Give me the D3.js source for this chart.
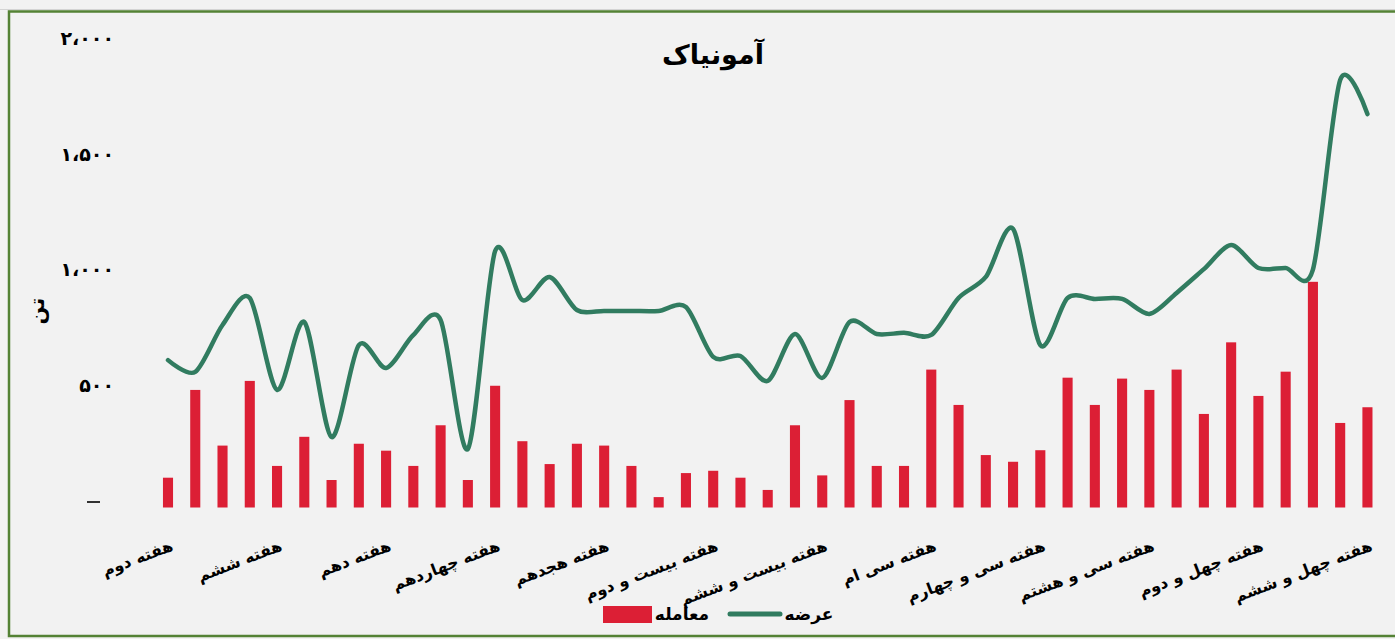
<!DOCTYPE html>
<html lang="fa">
  <head>
    <meta charset="utf-8" />
    <title>آمونیاک</title>
    <script src="https://d3js.org/d3.v7.min.js"></script>
    <style>
      body { margin: 0; background: #f2f2f2; }
      text { font-family: "DejaVu Sans", sans-serif; font-weight: bold; fill: #000; }
      .title { font-size: 27px; }
      .tick-label { font-size: 19px; letter-spacing: 2.5px; }
      .x-label { font-size: 16px; }
      .legend text { font-size: 17px; }
    </style>
  </head>
  <body>
    <svg width="1395" height="639"></svg>
    <script>
      const ordinals = [
        "دوم", "سوم", "چهارم", "پنجم", "ششم", "هفتم", "هشتم", "نهم", "دهم",
        "یازدهم", "دوازدهم", "سیزدهم", "چهاردهم", "پانزدهم", "شانزدهم", "هفدهم",
        "هجدهم", "نوزدهم", "بیستم", "بیست و یکم", "بیست و دوم", "بیست و سوم",
        "بیست و چهارم", "بیست و پنجم", "بیست و ششم", "بیست و هفتم", "بیست و هشتم",
        "بیست و نهم", "سی ام", "سی و یکم", "سی و دوم", "سی و سوم", "سی و چهارم",
        "سی و پنجم", "سی و ششم", "سی و هفتم", "سی و هشتم", "سی و نهم", "چهلم",
        "چهل و یکم", "چهل و دوم", "چهل و سوم", "چهل و چهارم", "چهل و پنجم", "چهل و ششم",
      ];
      const weeks = ordinals.map((o) => "هفته " + o);

      // معامله (bars)
      const deals = [
        129, 509, 268, 548, 180, 306, 119, 276, 246, 180, 356, 119, 527, 287, 188,
        276, 268, 180, 45, 149, 159, 129, 76, 356, 139, 465, 180, 180, 597, 444,
        227, 198, 248, 562, 444, 558, 509, 597, 405, 715, 483, 588, 977, 366, 434,
      ];
      // عرضه (line)
      const supply = [
        638, 587, 790, 907, 509, 803, 305, 703, 604, 747, 812, 253, 1110, 898, 998,
        855, 851, 851, 851, 868, 652, 656, 548, 751, 561, 803, 751, 756, 747, 907,
        998, 1206, 703, 907, 903, 903, 838, 929, 1032, 1136, 1037, 1037, 1030, 1851, 1703,
      ];
      const yTicks = [0, 500, 1000, 1500, 2000];

      const barColour = "#dc1f35";
      const lineColour = "#317c60";

      const faDigits = (n) =>
        d3.format(",")(n).replace(/,/g, "،").replace(/\d/g, (c) => "۰۱۲۳۴۵۶۷۸۹"[c]);

      const svg = d3.select("svg");

      svg.append("rect").attr("width", 1395).attr("height", 639).attr("fill", "#f2f2f2");
      svg.append("line")
        .attr("x1", 0).attr("x2", 1395).attr("y1", 9.5).attr("y2", 9.5)
        .attr("stroke", "#d4d4d4");
      svg.append("rect")
        .attr("x", 9).attr("y", 11.5).attr("width", 1400).attr("height", 624.5)
        .attr("fill", "none").attr("stroke", "#548235").attr("stroke-width", 2.5);

      const x = d3.scaleBand()
        .domain(weeks)
        .range([154.37, 1381.07])
        .paddingInner(0.63)
        .paddingOuter(0.315);
      const cx = (d) => x(d) + x.bandwidth() / 2;

      const y = d3.scaleLinear().domain([0, 2000]).range([507.5, 45.5]);

      // y axis labels
      const yAxis = svg.append("g")
        .attr("transform", "translate(114,0)")
        .call(d3.axisLeft(y).tickValues(yTicks).tickSize(0).tickFormat((d) => (d === 0 ? "" : faDigits(d))));
      yAxis.select(".domain").remove();
      yAxis.selectAll("text")
        .attr("class", "tick-label")
        .attr("x", 0)
        .attr("dy", "-0.05em")
        .attr("font-family", null)
        .attr("font-size", null);
      svg.append("line")
        .attr("x1", 87).attr("x2", 100)
        .attr("y1", y(0) - 5.5).attr("y2", y(0) - 5.5)
        .attr("stroke", "#000").attr("stroke-width", 1.6);

      svg.append("text")
        .attr("transform", "translate(38,311) rotate(-90)")
        .attr("text-anchor", "middle")
        .attr("dominant-baseline", "middle")
        .attr("font-size", "21px")
        .text("تن");

      // bars
      svg.append("g")
        .selectAll("rect")
        .data(weeks)
        .join("rect")
        .attr("x", (d) => x(d))
        .attr("width", x.bandwidth())
        .attr("y", (d, i) => y(deals[i]))
        .attr("height", (d, i) => y(0) - y(deals[i]))
        .attr("fill", barColour);

      // supply line
      const line = d3.line()
        .x((d, i) => cx(weeks[i]))
        .y((d) => y(d))
        .curve(d3.curveCardinal.tension(0.15));
      svg.append("path")
        .datum(supply)
        .attr("d", line)
        .attr("fill", "none")
        .attr("stroke", lineColour)
        .attr("stroke-width", 4.5)
        .attr("stroke-linecap", "round")
        .attr("stroke-linejoin", "round");

      // x labels, every fourth week
      svg.append("g")
        .selectAll("text")
        .data(weeks.filter((d, i) => i % 4 === 0))
        .join("text")
        .attr("class", "x-label")
        .attr("text-anchor", "end")
        .attr("transform", (d) => `translate(${cx(d) + 6},550) rotate(-21)`)
        .text((d) => d);

      // title
      svg.append("text")
        .attr("class", "title")
        .attr("x", 713)
        .attr("y", 56)
        .attr("text-anchor", "middle")
        .attr("dominant-baseline", "middle")
        .text("آمونیاک");

      // legend
      const legend = svg.append("g").attr("class", "legend");
      legend.append("rect")
        .attr("x", 603).attr("y", 606).attr("width", 49).attr("height", 17)
        .attr("fill", barColour);
      legend.append("text")
        .attr("x", 682).attr("y", 615)
        .attr("text-anchor", "middle").attr("dominant-baseline", "middle")
        .text("معامله");
      legend.append("line")
        .attr("x1", 730).attr("x2", 780).attr("y1", 614).attr("y2", 614)
        .attr("stroke", lineColour).attr("stroke-width", 5).attr("stroke-linecap", "round");
      legend.append("text")
        .attr("x", 809).attr("y", 615)
        .attr("text-anchor", "middle").attr("dominant-baseline", "middle")
        .text("عرضه");
    </script>
  </body>
</html>
